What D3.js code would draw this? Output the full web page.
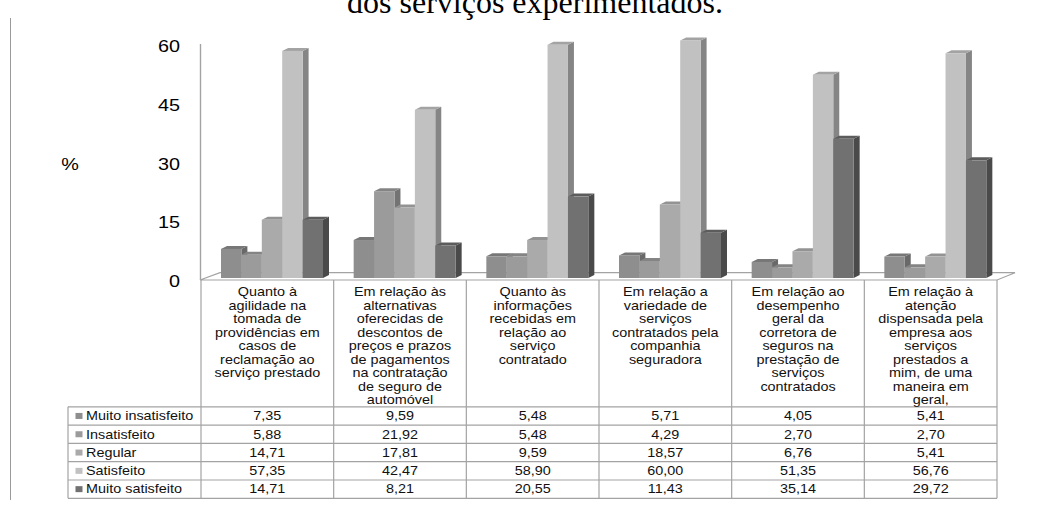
<!DOCTYPE html>
<html>
<head>
<meta charset="utf-8">
<script src="https://cdn.jsdelivr.net/npm/d3@7"></script>
<style>
  html, body { margin: 0; padding: 0; background: #fff; }
  svg { display: block; }
</style>
</head>
<body>
<svg id="chart" width="1050" height="505"></svg>
<script>
// ---------------- DATA ----------------
const titleText = "dos serviços experimentados.";
const yAxisLabel = "%";
const categories = [
  "Quanto à agilidade na tomada de providências em casos de reclamação ao serviço prestado",
  "Em relação às alternativas oferecidas de descontos de preços e prazos de pagamentos na contratação de seguro de automóvel",
  "Quanto às informações recebidas em relação ao serviço contratado",
  "Em relação a variedade de serviços contratados pela companhia seguradora",
  "Em relação ao desempenho geral da corretora de seguros na prestação de serviços contratados",
  "Em relação à atenção dispensada pela empresa aos serviços prestados a mim, de uma maneira em geral,"
];
const categoryLines = [
  ["Quanto à", "agilidade na", "tomada de", "providências em", "casos de", "reclamação ao", "serviço prestado"],
  ["Em relação às", "alternativas", "oferecidas de", "descontos de", "preços e prazos", "de pagamentos", "na contratação", "de seguro de", "automóvel"],
  ["Quanto às", "informações", "recebidas em", "relação ao", "serviço", "contratado"],
  ["Em relação a", "variedade de", "serviços", "contratados pela", "companhia", "seguradora"],
  ["Em relação ao", "desempenho", "geral da", "corretora de", "seguros na", "prestação de", "serviços", "contratados"],
  ["Em relação à", "atenção", "dispensada pela", "empresa aos", "serviços", "prestados a", "mim, de uma", "maneira em", "geral,"]
];
const seriesNames = ["Muito insatisfeito", "Insatisfeito", "Regular", "Satisfeito", "Muito satisfeito"];
const muitoInsatisfeito = [7.35, 9.59, 5.48, 5.71, 4.05, 5.41];
const insatisfeito      = [5.88, 21.92, 5.48, 4.29, 2.70, 2.70];
const regular           = [14.71, 17.81, 9.59, 18.57, 6.76, 5.41];
const satisfeito        = [57.35, 42.47, 58.90, 60.00, 51.35, 56.76];
const muitoSatisfeito   = [14.71, 8.21, 20.55, 11.43, 35.14, 29.72];
const yTicks = [0, 15, 30, 45, 60];

const seriesValues = [muitoInsatisfeito, insatisfeito, regular, satisfeito, muitoSatisfeito];

// ---------------- STYLE ----------------
const frontColors = ["#8e8e8e", "#9b9b9b", "#aaaaaa", "#c1c1c1", "#717171"];
const sideColors  = ["#696969", "#737373", "#828282", "#858585", "#4a4a4a"];
const topColors   = ["#777777", "#848484", "#939393", "#a3a3a3", "#5c5c5c"];
const lineColor = "#a3a3a3";
const SX = 1.2; // horizontal stretch of sans text

const svg = d3.select("#chart");

function sText(parent, x, y, str, opts) {
  const o = Object.assign({anchor: "middle", size: 12, sx: SX, family: "'Liberation Sans', Arial, sans-serif", fill: "#000"}, opts || {});
  return parent.append("text")
    .attr("transform", `translate(${x},${y}) scale(${o.sx},1)`)
    .attr("text-anchor", o.anchor)
    .attr("font-family", o.family)
    .attr("font-size", o.size)
    .attr("fill", o.fill)
    .text(str);
}

// ---------------- SCALES ----------------
const tableLeft = 201, tableRight = 997;
const x = d3.scaleBand().domain(d3.range(categories.length)).range([tableLeft, tableRight]).paddingInner(0).paddingOuter(0);
const xs = d3.scaleBand().domain(d3.range(seriesNames.length)).range([20, 122]);
const barBase = 278;
const yBar = d3.scaleLinear().domain([0, 60]).range([barBase, barBase - 60 * 3.96]);
const yAxisScale = d3.scaleLinear().domain([0, 60]).range([280.5, 45.5]);
const depthX = 6, depthY = 3;

// ---------------- TITLE & PAGE LINE ----------------
svg.append("text")
  .attr("x", 535).attr("y", 13)
  .attr("text-anchor", "middle")
  .attr("font-family", "'Liberation Serif', 'Times New Roman', serif")
  .attr("font-size", 32)
  .attr("fill", "#000")
  .text(titleText);

svg.append("line").attr("x1", 10.5).attr("x2", 10.5).attr("y1", 18).attr("y2", 500)
  .attr("stroke", "#9a9a9a").attr("stroke-width", 1);

// ---------------- FLOOR & WALL ----------------
const floor = [[200, 280], [220, 272.7], [1015, 272.7], [997, 280]];
svg.append("polygon").attr("points", floor.map(p => p.join(",")).join(" "))
  .attr("fill", "#fff").attr("stroke", lineColor).attr("stroke-width", 1.2);
svg.append("line").attr("x1", 200.5).attr("x2", 200.5).attr("y1", 44).attr("y2", 280)
  .attr("stroke", lineColor).attr("stroke-width", 1.4);

// ---------------- Y AXIS ----------------
const axisG = svg.append("g").attr("transform", "translate(200,0)")
  .call(d3.axisLeft(yAxisScale).tickValues(yTicks).tickSize(0).tickFormat(d3.format("d")));
axisG.select(".domain").remove();
axisG.selectAll(".tick text")
  .attr("x", null).attr("dy", null)
  .attr("transform", `translate(-20,6) scale(${SX},1)`)
  .attr("text-anchor", "end")
  .attr("font-family", "'Liberation Sans', Arial, sans-serif")
  .attr("font-size", 16.5)
  .attr("fill", "#000");

sText(svg, 70, 170, yAxisLabel, {size: 16.5});

// ---------------- BARS ----------------
const barsG = svg.append("g");
categories.forEach((c, ci) => {
  seriesValues.forEach((vals, si) => {
    const v = vals[ci];
    const x0 = x(ci) + xs(si);
    const w = xs.bandwidth();
    const yt = yBar(v);
    const g = barsG.append("g");
    g.append("polygon")
      .attr("points", [[x0 + w, barBase], [x0 + w + depthX, barBase - depthY], [x0 + w + depthX, yt - depthY], [x0 + w, yt]].map(p => p.join(",")).join(" "))
      .attr("fill", sideColors[si]);
    g.append("polygon")
      .attr("points", [[x0, yt], [x0 + depthX, yt - depthY], [x0 + w + depthX, yt - depthY], [x0 + w, yt]].map(p => p.join(",")).join(" "))
      .attr("fill", topColors[si]);
    g.append("rect")
      .attr("x", x0).attr("y", yt).attr("width", w).attr("height", barBase - yt)
      .attr("fill", frontColors[si]);
  });
});

// ---------------- TABLE ----------------
const rowTop = 406.8, rowH = 18.3;
const legendLeft = 68;
const tableG = svg.append("g");
const nRows = seriesNames.length;
const tableBottom = rowTop + nRows * rowH;

// horizontal lines
d3.range(nRows + 1).forEach(r => {
  tableG.append("line")
    .attr("x1", legendLeft).attr("x2", tableRight)
    .attr("y1", rowTop + r * rowH).attr("y2", rowTop + r * rowH)
    .attr("stroke", lineColor).attr("stroke-width", 1.2);
});
// vertical lines for category columns
d3.range(categories.length + 1).forEach(i => {
  const xx = i === categories.length ? tableRight : x(i);
  tableG.append("line")
    .attr("x1", xx).attr("x2", xx)
    .attr("y1", 280).attr("y2", tableBottom)
    .attr("stroke", lineColor).attr("stroke-width", 1.2);
});
tableG.append("line").attr("x1", legendLeft).attr("x2", legendLeft)
  .attr("y1", rowTop).attr("y2", tableBottom)
  .attr("stroke", lineColor).attr("stroke-width", 1.2);

// category headers
categoryLines.forEach((lines, ci) => {
  const cx = x(ci) + x.bandwidth() / 2;
  lines.forEach((ln, li) => {
    sText(tableG, cx, 296 + li * 13.55, ln, {size: 12, fill: "#111"});
  });
});

// legend + values
const fmt = v => d3.format(".2f")(v).replace(".", ",");
seriesNames.forEach((name, si) => {
  const cy = rowTop + si * rowH + rowH / 2;
  tableG.append("rect").attr("x", 75.5).attr("y", cy - 3).attr("width", 7).attr("height", 6)
    .attr("fill", frontColors[si]);
  sText(tableG, 86, cy + 4.3, name, {anchor: "start", size: 12, fill: "#111"});
  seriesValues[si].forEach((v, ci) => {
    sText(tableG, x(ci) + x.bandwidth() / 2, cy + 4.3, fmt(v), {size: 12, fill: "#111"});
  });
});
</script>
</body>
</html>
